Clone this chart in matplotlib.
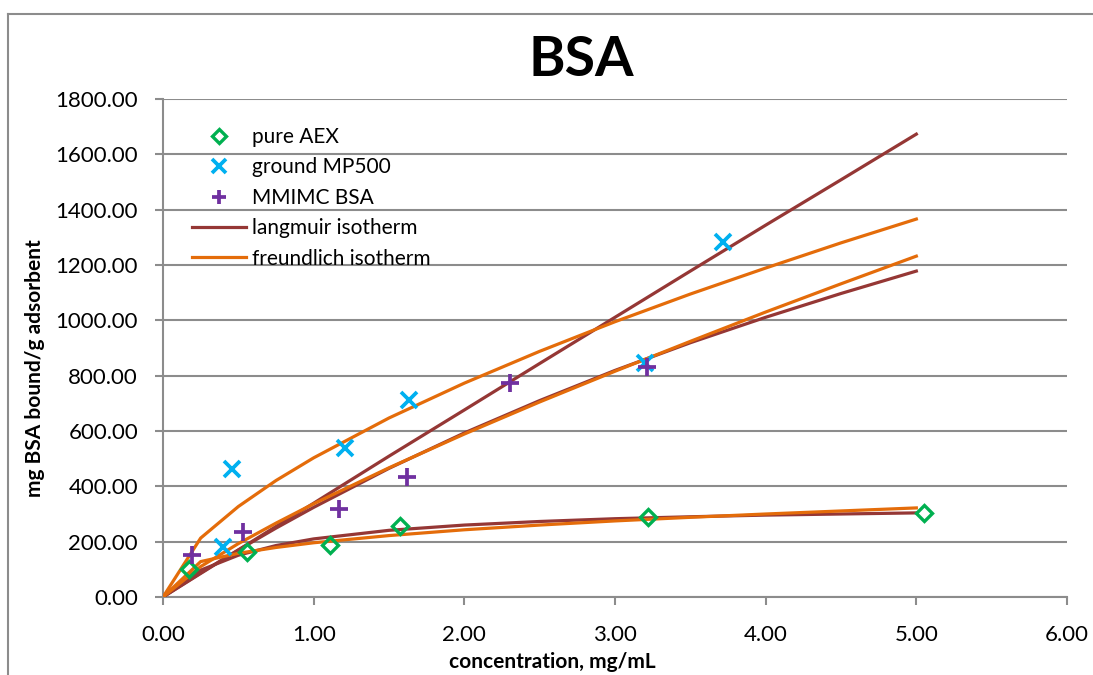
import matplotlib.pyplot as plt
from matplotlib.lines import Line2D
from matplotlib.ticker import FormatStrFormatter

plt.rcParams['font.family'] = ['Lato', 'DejaVu Sans']

# measured adsorption points (concentration mg/mL, mg BSA bound / g)
aex_conc = [0.17, 0.56, 1.11, 1.57, 3.22, 5.05]
aex_bound = [100, 163, 188, 255, 289, 304]
mp500_conc = [0.40, 0.46, 1.21, 1.63, 3.20, 3.72]
mp500_bound = [181, 463, 538, 712, 846, 1283]
mmimc_conc = [0.19, 0.53, 1.17, 1.62, 2.30, 3.21]
mmimc_bound = [152, 235, 318, 434, 773, 831]

# fitted isotherms at these concentrations
fit_conc = [0, 0.25, 0.5, 0.75, 1, 1.5, 2, 2.5, 3, 3.5, 4, 4.5, 5]
langmuir_aex = [0, 97, 151, 186, 210, 241, 260, 273, 283, 290, 296, 300, 304]
langmuir_mp500 = [0, 85, 170, 255, 339, 509, 676, 844, 1011, 1178, 1344, 1508, 1673]
langmuir_mmimc = [0, 87, 170, 249, 324, 465, 593, 710, 819, 919, 1011, 1097, 1178]
freundlich_aex = [0, 128, 158, 179, 196, 222, 243, 260, 275, 288, 300, 311, 322]
freundlich_mp500 = [0, 213, 327, 421, 503, 647, 773, 888, 995, 1095, 1189, 1280, 1366]
freundlich_mmimc = [0, 110, 193, 267, 337, 467, 589, 705, 816, 924, 1030, 1132, 1232]

W, H = 1093, 675
fig = plt.figure(figsize=(W/100, H/100), dpi=100)
ax = fig.add_axes([163/W, 1-597/H, (1067-163)/W, (597-99)/H])

brown = '#953735'
orange = '#E46C0A'
grey = '#8C8C8C'

# fitted curves
ax.plot(fit_conc, langmuir_mp500, color=brown, lw=2.3, label='langmuir isotherm', zorder=3)
ax.plot(fit_conc, langmuir_mmimc, color=brown, lw=2.3, label='_nolegend_', zorder=3)
ax.plot(fit_conc, langmuir_aex, color=brown, lw=2.3, label='_nolegend_', zorder=3)
ax.plot(fit_conc, freundlich_mp500, color=orange, lw=2.3, label='freundlich isotherm', zorder=4)
ax.plot(fit_conc, freundlich_mmimc, color=orange, lw=2.3, label='_nolegend_', zorder=4)
ax.plot(fit_conc, freundlich_aex, color=orange, lw=2.3, label='_nolegend_', zorder=4)

# data points
ax.plot(aex_conc, aex_bound, 'D', ms=8.5, mfc='none', mec='#00B050', mew=2.4, label='pure AEX', zorder=5)
ax.plot(mp500_conc, mp500_bound, 'x', ms=12, mec='#00B0F0', mew=2.7, label='ground MP500', zorder=5)
ax.plot(mmimc_conc, mmimc_bound, '+', ms=13, mec='#7030A0', mew=2.7, label='MMIMC BSA', zorder=5)

ax.set_xlim(0, 6)
ax.set_ylim(0, 1800)
ax.set_xticks(range(0, 7))
ax.set_yticks(range(0, 1801, 200))
ax.xaxis.set_major_formatter(FormatStrFormatter('%.2f'))
ax.yaxis.set_major_formatter(FormatStrFormatter('%.2f'))
ax.grid(axis='y', color=grey, lw=1.5)
ax.set_axisbelow(True)
for s in ['top', 'right']:
    ax.spines[s].set_visible(False)
for s in ['left', 'bottom']:
    ax.spines[s].set_color(grey)
    ax.spines[s].set_linewidth(1.5)
ax.tick_params(axis='x', direction='out', length=6, width=1.5, color=grey, labelsize=16, pad=14)
ax.tick_params(axis='y', direction='out', length=6, width=1.5, color=grey, labelsize=16, pad=12)

fig.text(581/W, 1-60/H, 'BSA', fontsize=40, fontweight='bold', ha='center', va='center')
fig.text(552/W, 1-662/H, 'concentration, mg/mL', fontsize=15, fontweight='bold', ha='center', va='center')
fig.text(35/W, 1-368/H, 'mg BSA bound/g adsorbent', fontsize=15, fontweight='bold',
         ha='center', va='center', rotation=90)

# legend in the same order as the reference
handles, labels = ax.get_legend_handles_labels()
order = ['pure AEX', 'ground MP500', 'MMIMC BSA', 'langmuir isotherm', 'freundlich isotherm']
hl = dict(zip(labels, handles))
ax.legend([hl[k] for k in order], order, loc='upper left', bbox_to_anchor=(192/W, 1-127/H),
          bbox_transform=fig.transFigure, frameon=False, fontsize=15, markerscale=0.8,
          handlelength=2.6, handletextpad=0.3, labelspacing=0.5, borderpad=0, borderaxespad=0)

# outer chart border (left and top visible in the crop)
fig.add_artist(Line2D([8/W, 8/W], [0, 1-14/H], transform=fig.transFigure, color=grey, lw=1.5))
fig.add_artist(Line2D([8/W, 1], [1-14/H, 1-14/H], transform=fig.transFigure, color=grey, lw=1.5))

fig.savefig('out.png', dpi=100)
